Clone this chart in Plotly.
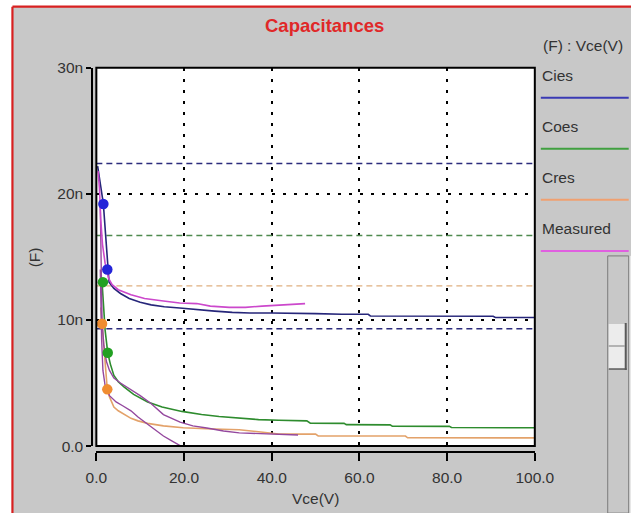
import plotly.graph_objects as go

W, H = 631, 513

# ---------------- data (capacitance in nF, Vce in V) ----------------
cies_sim_x = [0.3, 0.6, 1.0, 1.6, 2.2, 2.9, 4.0, 5.5, 7.5, 10, 12.5, 15.5, 19, 23, 27, 31, 35, 40, 45, 50, 56, 62, 62.5, 70, 80, 90.5, 91, 100]
cies_sim_y = [22.2, 21.6, 20.6, 19.2, 16.0, 13.0, 12.5, 12.1, 11.7, 11.4, 11.2, 11.05, 10.95, 10.8, 10.7, 10.6, 10.55, 10.55, 10.5, 10.5, 10.45, 10.45, 10.32, 10.3, 10.3, 10.3, 10.2, 10.2]

coes_sim_x = [1.3, 1.6, 2.0, 2.6, 3.2, 4.0, 5.0, 6.3, 8.5, 11.7, 15.0, 19.5, 24, 28, 32.6, 37, 41.6, 48, 48.8, 56.5, 57, 67, 67.5, 80.5, 81, 100]
coes_sim_y = [13.0, 11.5, 9.2, 7.4, 6.5, 5.6, 5.1, 4.7, 4.1, 3.5, 3.1, 2.75, 2.5, 2.35, 2.2, 2.1, 2.05, 2.0, 1.82, 1.8, 1.7, 1.68, 1.58, 1.56, 1.47, 1.45]

cres_sim_x = [1.0, 1.3, 1.8, 2.5, 3.0, 4.0, 5.0, 6.3, 7.9, 9.5, 11.7, 15.3, 19.8, 25, 32.6, 38, 41.6, 50, 50.6, 70.5, 71, 100]
cres_sim_y = [11.0, 9.7, 7.0, 4.5, 3.9, 3.1, 2.8, 2.5, 2.2, 2.0, 1.8, 1.6, 1.45, 1.38, 1.3, 1.1, 0.95, 0.95, 0.8, 0.8, 0.66, 0.65]

meas_cies_x = [0.4, 0.7, 1.0, 1.4, 2.0, 2.8, 3.6, 5, 7.9, 11, 15.3, 19, 22.9, 26, 30.3, 34, 37.8, 42, 45, 47.6]
meas_cies_y = [21.8, 20.5, 18.0, 16.0, 14.5, 13.3, 12.8, 12.4, 12.0, 11.7, 11.5, 11.35, 11.3, 11.1, 11.0, 11.0, 11.1, 11.2, 11.25, 11.3]

meas_coes_x = [0.9, 1.0, 1.1, 1.3, 1.7, 2.3, 3.0, 4.0, 5.5, 7.9, 10, 12.4, 15.3, 19.1, 22, 25.2, 29, 32.6, 37.8, 42, 46]
meas_coes_y = [19.0, 16.5, 13.0, 10.0, 8.0, 6.7, 6.0, 5.4, 5.0, 4.5, 4.0, 3.4, 2.5, 1.9, 1.6, 1.43, 1.2, 1.05, 1.0, 0.92, 0.88]

meas_cres_x = [0.9, 1.0, 1.2, 1.5, 2.0, 3.0, 4.5, 6.0, 7.9, 9.5, 11.7, 13.5, 15.3, 17.3, 19.3]
meas_cres_y = [14.0, 11.5, 8.5, 6.0, 4.8, 4.0, 3.5, 3.2, 2.8, 2.3, 1.75, 1.3, 0.8, 0.4, 0.0]

cies_pts_x, cies_pts_y = [1.6, 2.5], [19.2, 14.0]
coes_pts_x, coes_pts_y = [1.5, 2.6], [13.0, 7.4]
cres_pts_x, cres_pts_y = [1.3, 2.5], [9.7, 4.5]

cies_limits = [22.4, 9.3]
coes_limits = [16.7]
cres_limits = [12.7]
x_span = [0, 100]

x_ticks = [0, 20, 40, 60, 80, 100]
x_ticktext = ["0.0", "20.0", "40.0", "60.0", "80.0", "100.0"]
y_ticks = [0, 10, 20, 30]
y_ticktext = ["0.0", "10n", "20n", "30n"]

legend_names = ["Cies", "Coes", "Cres", "Measured"]
legend_colors = ["#3a3ab4", "#40a040", "#f0a070", "#e060e0"]

# ---------------- layout helpers ----------------
# the returned picture shows the page slightly shrunk and offset; positions below are
# given in picture pixels and converted back to figure paper fractions
A_X, S_X = 9.56, 0.952
A_Y, S_Y = 8.3, 0.966


def px(r):
    return ((r - A_X) / S_X) / W


def py(r):
    return 1 - ((r - A_Y) / S_Y) / H


FONT = "Liberation Sans, Arial, sans-serif"
GRAY = "#c8c8c8"
TXT = "#333333"
FS = 15.5

fig = go.Figure()

# dashed limit lines
for v in cies_limits:
    fig.add_trace(go.Scatter(x=x_span, y=[v, v], mode="lines",
                             line=dict(color="#2c2c7c", width=1.5, dash="6px,4px"), hoverinfo="skip"))
for v in coes_limits:
    fig.add_trace(go.Scatter(x=x_span, y=[v, v], mode="lines",
                             line=dict(color="#4f8a4f", width=1.3, dash="6px,4px"), hoverinfo="skip"))
for v in cres_limits:
    fig.add_trace(go.Scatter(x=x_span, y=[v, v], mode="lines",
                             line=dict(color="#e0b080", width=1.3, dash="6px,4px"), hoverinfo="skip"))

# simulated curves
fig.add_trace(go.Scatter(x=cies_sim_x, y=cies_sim_y, mode="lines", line=dict(color="#26267a", width=1.6)))
fig.add_trace(go.Scatter(x=coes_sim_x, y=coes_sim_y, mode="lines", line=dict(color="#2e8c2e", width=1.6)))
fig.add_trace(go.Scatter(x=cres_sim_x, y=cres_sim_y, mode="lines", line=dict(color="#e3a26a", width=1.6)))

# measured curves
fig.add_trace(go.Scatter(x=meas_coes_x, y=meas_coes_y, mode="lines", line=dict(color="#94489e", width=1.4)))
fig.add_trace(go.Scatter(x=meas_cres_x, y=meas_cres_y, mode="lines", line=dict(color="#94489e", width=1.4)))
fig.add_trace(go.Scatter(x=meas_cies_x, y=meas_cies_y, mode="lines", line=dict(color="#cc48cc", width=1.6)))

# markers
fig.add_trace(go.Scatter(x=cies_pts_x, y=cies_pts_y, mode="markers", marker=dict(color="#2424d8", size=10.5)))
fig.add_trace(go.Scatter(x=coes_pts_x, y=coes_pts_y, mode="markers", marker=dict(color="#22a022", size=10.5)))
fig.add_trace(go.Scatter(x=cres_pts_x, y=cres_pts_y, mode="markers", marker=dict(color="#f08c30", size=10.5)))

x_dom = [px(95), px(534)]
y_dom = [py(445), py(67)]

shapes = [
    # gray panel
    dict(type="rect", xref="paper", yref="paper", x0=px(11), x1=px(640), y0=py(520), y1=py(6),
         fillcolor=GRAY, line=dict(width=0), layer="below"),
    # red border (left and top; right/bottom lie outside the picture)
    dict(type="line", xref="paper", yref="paper", x0=px(11), x1=px(11), y0=py(520), y1=py(6),
         line=dict(color="#d82020", width=2.2), layer="below"),
    dict(type="line", xref="paper", yref="paper", x0=px(11), x1=px(640), y0=py(6), y1=py(6),
         line=dict(color="#d82020", width=2.2), layer="below"),
    # white plot area
    dict(type="rect", xref="paper", yref="paper", x0=x_dom[0], x1=x_dom[1], y0=y_dom[0], y1=y_dom[1],
         fillcolor="white", line=dict(width=0), layer="below"),
    # plot frame
    dict(type="rect", xref="paper", yref="paper", x0=x_dom[0], x1=x_dom[1], y0=y_dom[0], y1=y_dom[1],
         fillcolor="rgba(0,0,0,0)", line=dict(color="black", width=2), layer="above"),
    # scrollbar
    dict(type="rect", xref="paper", yref="paper", x0=px(607), x1=px(628), y0=py(512), y1=py(255),
         fillcolor=GRAY, line=dict(color="#7a7a7a", width=1), layer="above"),
    dict(type="line", xref="paper", yref="paper", x0=px(629.5), x1=px(629.5), y0=py(512), y1=py(255),
         line=dict(color="#f4f4f4", width=1)),
    dict(type="rect", xref="paper", yref="paper", x0=px(608), x1=px(625), y0=py(368), y1=py(323),
         fillcolor="#ececec", line=dict(width=0), layer="above"),
    dict(type="line", xref="paper", yref="paper", x0=px(625), x1=px(625), y0=py(369), y1=py(322),
         line=dict(color="#5a5a5a", width=2)),
    dict(type="line", xref="paper", yref="paper", x0=px(608), x1=px(626), y0=py(368), y1=py(368),
         line=dict(color="#5a5a5a", width=1.5)),
    dict(type="line", xref="paper", yref="paper", x0=px(608), x1=px(624), y0=py(345), y1=py(345),
         line=dict(color="#7a7a7a", width=1)),
]

label_y = [75, 126, 177, 228]
annotations = [
    dict(text="(F) : Vce(V)", x=px(540), y=py(45), xref="paper", yref="paper", showarrow=False,
         xanchor="left", yanchor="middle", font=dict(family=FONT, size=FS, color=TXT)),
    dict(text="Vce(V)", x=px(314), y=py(497), xref="paper", yref="paper", showarrow=False,
         xanchor="center", yanchor="middle", font=dict(family=FONT, size=FS, color=TXT)),
    dict(text="(F)", x=px(34), y=py(256), xref="paper", yref="paper", showarrow=False, textangle=-90,
         xanchor="center", yanchor="middle", font=dict(family=FONT, size=FS, color=TXT)),
    dict(text="<b>Capacitances</b>", x=px(323), y=py(25), xref="paper", yref="paper", showarrow=False,
         xanchor="center", yanchor="middle", font=dict(family=FONT, size=18.5, color="#e02828")),
]
for name, col, ly in zip(legend_names, legend_colors, label_y):
    annotations.append(dict(text=name, x=px(539), y=py(ly), xref="paper", yref="paper", showarrow=False,
                            xanchor="left", yanchor="middle", font=dict(family=FONT, size=FS, color=TXT)))
    shapes.append(dict(type="line", xref="paper", yref="paper", x0=px(540), x1=px(628),
                       y0=py(ly + 22), y1=py(ly + 22), line=dict(color=col, width=2)))

fig.update_layout(
    width=W, height=H,
    autosize=False,
    margin=dict(l=0, r=0, t=0, b=0),
    paper_bgcolor="white",
    plot_bgcolor="rgba(0,0,0,0)",
    showlegend=False,
    xaxis=dict(domain=x_dom, range=[0, 100], anchor="free", position=py(451),
               tickmode="array", tickvals=x_ticks, ticktext=x_ticktext,
               showline=True, linecolor="black", linewidth=2,
               ticks="outside", ticklen=8, tickwidth=2, tickcolor="black", ticklabelstandoff=3,
               showgrid=True, gridcolor="black", gridwidth=2, griddash="3px,8px",
               zeroline=False, tickfont=dict(family=FONT, size=FS, color=TXT)),
    yaxis=dict(domain=y_dom, range=[0, 30], anchor="free", position=px(91),
               tickmode="array", tickvals=y_ticks, ticktext=y_ticktext,
               showline=True, linecolor="black", linewidth=2,
               ticks="outside", ticklen=5, tickwidth=2, tickcolor="black",
               showgrid=True, gridcolor="black", gridwidth=2, griddash="3px,8px",
               zeroline=False, tickfont=dict(family=FONT, size=FS, color=TXT)),
    shapes=shapes,
    annotations=annotations,
)

fig.write_html(
    "out.html",
    config={"responsive": False},
    post_script="document.body.style.margin='0';",
)
